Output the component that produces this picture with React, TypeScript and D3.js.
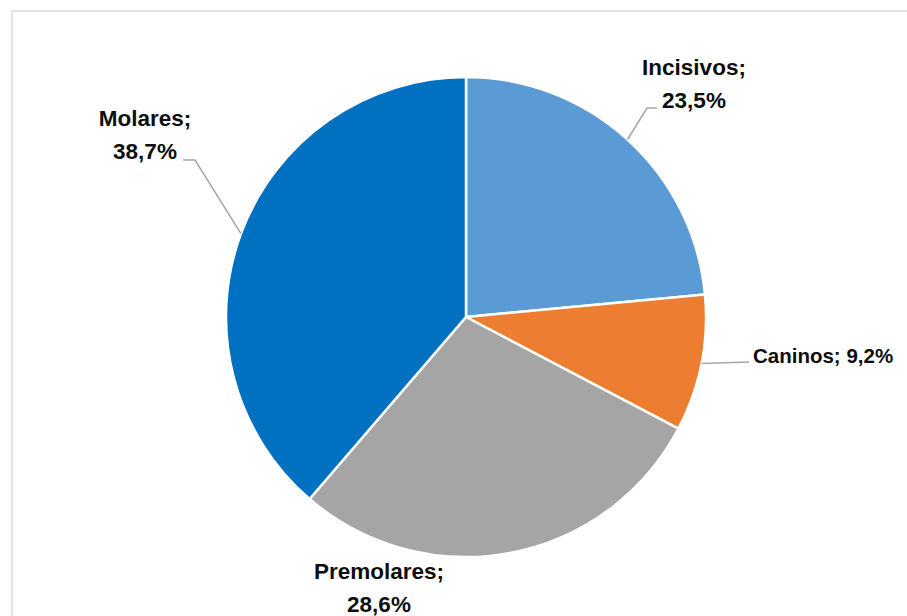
import React from "react";
import * as d3 from "d3";

const categories = ["Incisivos", "Caninos", "Premolares", "Molares"];
const values = [23.5, 9.2, 28.6, 38.7];
const valueLabels = ["23,5%", "9,2%", "28,6%", "38,7%"];
const colors = ["#5B9BD5", "#ED7D31", "#A5A5A5", "#0070C0"];

// label layout (Excel-like manual placement)
const labelLayout = [
  { x: 694, y: 75, oneLine: false, elbow: [647, 108], hStart: [657, 108], fs: 22.5 },
  { x: 753, y: 363, oneLine: true, elbow: null, hStart: [749, 362], fs: 20.5 },
  { x: 379, y: 579, oneLine: false, elbow: null, hStart: null, fs: 22.5 },
  { x: 145, y: 126, oneLine: false, elbow: [195, 160], hStart: [183, 160], fs: 22.5 },
];

const W = 907;
const H = 616;
const cx = 466;
const cy = 317;
const R = 240;

export default function App() {
  const pie = d3.pie<number>().sort(null).value((d) => d);
  const arcs = pie(values);
  const arcGen = d3.arc<d3.PieArcDatum<number>>().innerRadius(0).outerRadius(R);
  const edge = d3.arc<d3.PieArcDatum<number>>().innerRadius(R).outerRadius(R);
  const font = "'Liberation Sans', Arial, sans-serif";
  return (
    <svg width={W} height={H} style={{ position: "absolute", left: 0, top: 0, background: "#fff" }}>
      <rect x={12} y={11} width={W} height={H} fill="#fff" stroke="#D9D9D9" strokeWidth={1.5} />
      <g transform={`translate(${cx},${cy})`}>
        {arcs.map((a, i) => (
          <path key={i} d={arcGen(a) || ""} fill={colors[i]} stroke="#fff" strokeWidth={2.5} strokeLinejoin="round" />
        ))}
      </g>
      {arcs.map((a, i) => {
        const L = labelLayout[i];
        if (!L.hStart) return null;
        const [ex, ey] = edge.centroid(a);
        const p = [cx + ex, cy + ey];
        const pts = L.elbow ? [L.hStart, L.elbow, p] : [L.hStart, p];
        return (
          <polyline key={"l" + i} points={pts.map((q) => q.join(",")).join(" ")} fill="none" stroke="#A6A6A6" strokeWidth={1.5} />
        );
      })}
      {arcs.map((a, i) => {
        const L = labelLayout[i];
        if (L.oneLine) {
          return (
            <text key={"t" + i} x={L.x} y={L.y} fontFamily={font} fontWeight="bold" fontSize={L.fs} fill="#0D0D0D">
              {`${categories[i]}; ${valueLabels[i]}`}
            </text>
          );
        }
        return (
          <text key={"t" + i} x={L.x} y={L.y} textAnchor="middle" fontFamily={font} fontWeight="bold" fontSize={L.fs} fill="#0D0D0D">
            <tspan x={L.x} y={L.y}>{`${categories[i]};`}</tspan>
            <tspan x={L.x} y={L.y + 33}>{valueLabels[i]}</tspan>
          </text>
        );
      })}
    </svg>
  );
}
